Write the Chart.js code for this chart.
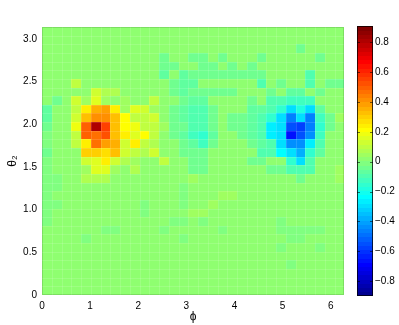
<!DOCTYPE html>
<html lang="en">
<head>
<meta charset="UTF-8">
<title>phi - theta2 map</title>
<script src="https://cdn.jsdelivr.net/npm/chart.js"></script>
<style>
  body { margin: 0; background: #fff; }
  #wrap { position: relative; width: 399px; height: 325px; }
  .box { position: absolute; top: 0; height: 325px; }
</style>
</head>
<body>
<div id="wrap">
  <div class="box" style="left:0;width:399px"><canvas id="map"></canvas></div>
  <div class="box" style="left:340px;width:59px"><canvas id="bar"></canvas></div>
</div>
<script>
// bins: 31 x 31 over [0, 2pi] x [0, pi]
const nPhi = 31;
const nTheta = 31;
const phiMax = 2 * Math.PI;
const thetaMax = Math.PI;
const xTicks = [0, 1, 2, 3, 4, 5, 6];
const yTicks = [0, 0.5, 1, 1.5, 2, 2.5, 3];
const cbTicks = [-0.8, -0.6, -0.4, -0.2, 0, 0.2, 0.4, 0.6, 0.8];
const cMin = -0.90;
const cMax = 0.91;

const b = 0.03; // background level
// rows from top (theta ~ pi) down to theta ~ 0, columns phi 0 -> 2pi
const rows = [
  [b,b,b,b,b,b,b,b,b,b, b,b,b,b,b,b,b,b,b,b, b,b,b,b,b,b,b,b,b,b, b],
  [b,b,b,b,b,b,b,b,b,b, b,b,b,b,b,b,b,b,b,b, b,b,b,b,b,b,b,b,b,b, b],
  [b,b,b,b,b,b,b,b,b,b, b,b,b,b,b,b,b,b,b,b, b,b,b,b,b,b,-0.03,b,b,b, b],
  [b,b,b,b,b,b,b,b,b,b, b,b,-0.05,b,b,-0.05,-0.05,b,-0.05,b, b,b,-0.05,b,b,b,b,b,-0.05,b, b],
  [b,b,b,b,b,b,b,b,b,b, b,b,-0.05,-0.04,b,b,-0.05,-0.05,b,-0.05, b,-0.05,b,b,b,b,b,b,b,b, b],
  [b,b,b,b,b,b,b,b,b,b, b,b,-0.07,b,-0.06,-0.05,-0.04,-0.04,-0.04,-0.04, -0.04,-0.04,-0.04,b,b,b,b,-0.08,b,b, b],
  [b,b,b,0.1,b,b,b,b,b,b, b,b,b,-0.03,-0.06,-0.06,b,b,b,b, b,b,-0.08,b,-0.05,b,b,-0.08,b,-0.05, -0.05],
  [b,b,b,b,b,0.14,0.07,0.07,b,b, b,b,b,-0.03,-0.06,-0.05,-0.05,-0.04,-0.04,-0.04, b,b,b,-0.05,b,-0.07,-0.07,b,-0.04,b, b],
  [b,-0.04,b,0.14,0.06,0.15,0.06,0.02,0.06,b, b,0.1,b,b,-0.05,-0.06,-0.06,b,b,b, b,-0.04,b,-0.08,-0.08,-0.12,-0.12,-0.12,b,b, b],
  [-0.06,b,b,0.1,0.25,0.36,0.4,0.24,0.06,0.15, 0.12,0.05,b,-0.04,-0.06,-0.09,-0.09,-0.05,b,b, b,-0.07,-0.07,-0.1,-0.15,-0.3,-0.18,-0.3,-0.06,b, b],
  [-0.06,b,b,0.12,0.33,0.42,0.42,0.33,0.21,0.1, 0.1,0.12,b,-0.04,-0.06,-0.09,-0.09,-0.05,b,-0.05, -0.05,-0.07,-0.08,-0.15,-0.28,-0.46,-0.28,-0.45,-0.12,-0.04, 0.06],
  [-0.04,b,b,0.2,0.5,0.8,0.55,0.33,0.23,0.18, 0.1,0.1,0.05,-0.04,-0.05,-0.09,-0.1,-0.04,b,-0.05, -0.05,-0.07,-0.08,-0.25,-0.3,-0.55,-0.58,-0.46,-0.14,-0.04, b],
  [-0.02,b,b,0.1,0.5,0.47,0.52,0.34,0.24,0.15, 0.22,0.1,b,-0.04,-0.06,-0.13,-0.15,-0.06,b,b, -0.05,-0.07,-0.08,-0.25,-0.28,-0.66,-0.55,-0.42,-0.12,b, b],
  [-0.02,b,b,0.1,0.24,0.48,0.4,0.35,0.13,0.24, 0.1,0.07,b,b,-0.05,-0.07,-0.12,-0.04,b,b, b,-0.05,-0.07,-0.1,-0.28,-0.42,-0.42,-0.25,-0.08,b, b],
  [-0.04,b,b,b,0.3,0.3,0.27,0.32,0.12,0.1, 0.08,0.12,b,b,-0.04,-0.05,-0.05,b,b,b, b,b,-0.08,-0.1,-0.23,-0.28,-0.38,-0.14,-0.06,b, b],
  [-0.02,b,b,b,0.12,0.15,0.25,0.13,0.08,0.06, b,b,0.1,b,b,-0.04,-0.05,b,b,b, b,-0.04,-0.04,b,b,-0.14,-0.28,-0.08,b,b, b],
  [-0.02,b,b,b,0.06,0.16,0.16,0.06,b,0.08, b,b,b,b,b,-0.04,-0.04,b,b,b, b,b,b,-0.05,-0.05,-0.1,-0.1,-0.08,b,b, 0.06],
  [-0.02,-0.02,b,b,0.07,0.08,0.08,b,b,b, b,b,b,b,b,0.05,b,b,b,b, b,b,b,b,b,b,-0.05,b,b,b, 0.06],
  [-0.02,-0.02,b,b,b,b,b,b,b,b, b,b,b,b,-0.02,b,b,b,b,b, b,b,b,b,b,b,b,b,b,b, b],
  [-0.02,b,b,b,b,b,b,b,b,b, b,b,b,b,-0.02,b,b,b,0.06,0.06, b,b,b,b,b,b,b,b,b,b, b],
  [-0.02,-0.02,b,b,b,b,b,b,b,b, -0.02,b,b,b,-0.02,b,b,0.06,b,b, b,b,b,b,b,b,b,b,b,b, b],
  [-0.02,b,b,b,b,b,b,b,b,b, -0.02,b,b,b,b,0.05,0.05,b,b,b, b,b,b,b,b,b,b,b,b,b, b],
  [-0.01,b,b,b,b,b,b,b,b,b, b,b,b,-0.01,-0.01,b,-0.01,b,b,b, b,b,b,b,-0.01,b,b,b,b,b, b],
  [b,b,b,b,b,b,-0.01,-0.01,b,b, b,b,-0.01,b,b,b,b,b,-0.01,b, b,b,b,b,-0.01,-0.01,-0.01,-0.01,-0.01,b, b],
  [b,b,b,b,-0.01,b,b,b,b,b, b,b,b,b,-0.01,b,b,b,b,b, b,b,b,b,b,-0.01,-0.01,b,b,b, b],
  [b,b,b,b,b,b,b,b,b,b, b,b,b,b,b,b,b,b,b,b, b,b,b,b,-0.01,b,b,b,-0.01,b, b],
  [b,b,b,b,b,b,b,b,b,b, b,b,b,b,b,b,b,b,b,b, b,b,b,b,b,b,b,b,b,b, b],
  [b,b,b,b,b,b,b,b,b,b, b,b,b,b,b,b,b,b,b,b, b,b,b,b,b,-0.01,b,b,b,b, b],
  [b,b,b,b,b,b,b,b,b,b, b,b,b,b,b,b,b,b,b,b, b,b,b,b,b,b,b,b,b,b, b],
  [b,b,b,b,b,b,b,b,b,b, b,b,b,b,b,b,b,b,b,b, b,b,b,b,b,b,b,b,b,b, b],
  [b,b,b,b,b,b,b,b,b,b, b,b,b,b,b,b,b,b,b,b, b,b,b,b,b,b,b,b,b,b, b]
];

const FONT = "'Liberation Sans', Arial, 'DejaVu Sans', sans-serif";

// matlab jet(64)
function u(i) {
  if (i < 1 || i > 47) return 0;
  if (i <= 16) return i / 16;
  if (i <= 31) return 1;
  return (48 - i) / 16;
}
function jet(k) {
  const c = [u(k - 24), u(k - 8), u(k + 8)].map(v => Math.round(v * 255));
  return `rgb(${c[0]},${c[1]},${c[2]})`;
}
function colorOf(v) {
  let k = Math.floor((v - cMin) / (cMax - cMin) * 64) + 1;
  k = Math.max(1, Math.min(64, k));
  return jet(k);
}

const dPhi = phiMax / nPhi;
const dTheta = thetaMax / nTheta;

const heatmap = {
  id: 'heatmap',
  beforeDatasetsDraw(chart) {
    const { ctx, chartArea: a, scales: { x, y } } = chart;
    ctx.save();
    ctx.beginPath();
    ctx.rect(a.left, a.top, a.width, a.height);
    ctx.clip();
    rows.forEach((row, r) => {
      const j = nTheta - 1 - r;
      const yb = Math.round(y.getPixelForValue(j * dTheta));
      const yt = Math.round(y.getPixelForValue((j + 1) * dTheta));
      row.forEach((v, i) => {
        const xl = Math.round(x.getPixelForValue(i * dPhi));
        const xr = Math.round(x.getPixelForValue((i + 1) * dPhi));
        ctx.fillStyle = colorOf(v);
        ctx.fillRect(xl, yt, xr - xl, yb - yt);
      });
    });
    // faint seams between cells
    ctx.strokeStyle = 'rgba(255,255,255,0.13)';
    ctx.lineWidth = 1;
    ctx.beginPath();
    for (let i = 1; i < nPhi; i++) {
      const px = Math.round(x.getPixelForValue(i * dPhi)) + 0.5;
      ctx.moveTo(px, a.top); ctx.lineTo(px, a.bottom);
    }
    for (let j = 1; j < nTheta; j++) {
      const py = Math.round(y.getPixelForValue(j * dTheta)) + 0.5;
      ctx.moveTo(a.left, py); ctx.lineTo(a.right, py);
    }
    ctx.stroke();
    ctx.restore();
    ctx.save();
    ctx.strokeStyle = 'rgba(0,0,0,0.13)';
    ctx.strokeRect(Math.round(a.left) + 0.5, Math.round(a.top) + 0.5,
      Math.round(a.width) - 1, Math.round(a.height) - 1);
    ctx.restore();
  }
};

new Chart(document.getElementById('map'), {
  type: 'scatter',
  data: { datasets: [{ data: [], pointRadius: 0 }] },
  options: {
    responsive: true,
    maintainAspectRatio: false,
    animation: false,
    layout: { padding: { top: 27, right: 54.6, left: 0, bottom: 0 } },
    plugins: { legend: { display: false }, tooltip: { enabled: false } },
    scales: {
      x: {
        type: 'linear', min: 0, max: phiMax,
        afterFit(s) { s.height = 30; },
        afterBuildTicks(s) { s.ticks = xTicks.map(v => ({ value: v })); },
        grid: { display: false, drawTicks: false },
        border: { display: false },
        ticks: { padding: 5, color: '#000', autoSkip: false, maxRotation: 0, font: { family: FONT, size: 10 } },
        title: { display: true, text: 'ϕ', color: '#000', font: { family: FONT, size: 12 }, padding: { top: 0, bottom: 1 } }
      },
      y: {
        type: 'linear', min: 0, max: thetaMax,
        afterFit(s) { s.width = 42; },
        afterBuildTicks(s) { s.ticks = yTicks.map(v => ({ value: v })); },
        grid: { display: false, drawTicks: false },
        border: { display: false },
        ticks: { padding: 5, color: '#000', autoSkip: false, font: { family: FONT, size: 10 } },
        title: { display: true, text: 'θ₂', color: '#000', font: { family: FONT, size: 12 }, padding: { top: 5, bottom: 0 } }
      }
    }
  },
  plugins: [heatmap]
});

const colorbar = {
  id: 'colorbar',
  beforeDatasetsDraw(chart) {
    const { ctx, chartArea: a, scales: { y } } = chart;
    const left = Math.round(a.left), right = Math.round(a.right);
    ctx.save();
    for (let k = 0; k < 64; k++) {
      const v0 = cMin + k * (cMax - cMin) / 64;
      const v1 = cMin + (k + 1) * (cMax - cMin) / 64;
      const y0 = y.getPixelForValue(v0), y1 = y.getPixelForValue(v1);
      ctx.fillStyle = jet(k + 1);
      ctx.fillRect(left, Math.floor(y1), right - left, Math.ceil(y0) - Math.floor(y1));
    }
    ctx.strokeStyle = 'rgba(0,0,0,0.55)';
    ctx.lineWidth = 1;
    ctx.beginPath();
    cbTicks.forEach(v => {
      const py = Math.round(y.getPixelForValue(v)) + 0.5;
      ctx.moveTo(left, py); ctx.lineTo(left + 3, py);
      ctx.moveTo(right - 3, py); ctx.lineTo(right, py);
    });
    ctx.stroke();
    ctx.strokeStyle = 'rgba(0,0,0,0.75)';
    ctx.strokeRect(left + 0.5, Math.round(a.top) + 0.5, right - left - 1, Math.round(a.bottom) - Math.round(a.top) - 1);
    ctx.restore();
  }
};

new Chart(document.getElementById('bar'), {
  type: 'scatter',
  data: { datasets: [{ data: [], pointRadius: 0 }] },
  options: {
    responsive: true,
    maintainAspectRatio: false,
    animation: false,
    layout: { padding: { top: 26, bottom: 29, left: 17, right: 0 } },
    plugins: { legend: { display: false }, tooltip: { enabled: false } },
    scales: {
      x: { display: false, min: 0, max: 1 },
      y: {
        type: 'linear', position: 'right', min: cMin, max: cMax,
        afterFit(s) { s.width = 26; },
        afterBuildTicks(s) { s.ticks = cbTicks.map(v => ({ value: v })); },
        grid: { display: false, drawTicks: false },
        border: { display: false },
        ticks: {
          padding: 2, color: '#000', autoSkip: false, font: { family: FONT, size: 10 },
          callback: v => (Math.abs(v) < 1e-9 ? '0' : v.toFixed(1).replace('-', '\u2212'))
        }
      }
    }
  },
  plugins: [colorbar]
});
</script>
</body>
</html>
